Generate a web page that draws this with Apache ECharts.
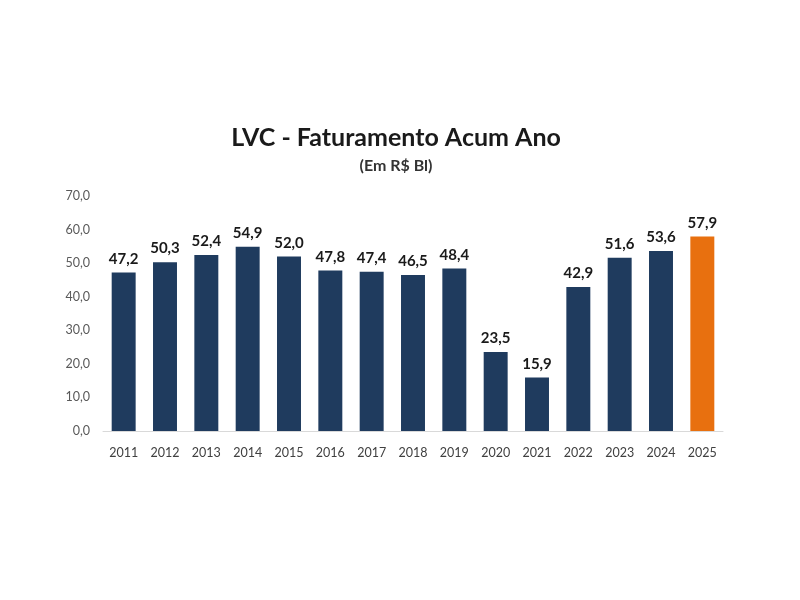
<!DOCTYPE html>
<html><head><meta charset="utf-8">
<script src="https://cdn.jsdelivr.net/npm/echarts@6/dist/echarts.min.js"></script>
<style>html,body{margin:0;padding:0;background:#fff}#c{width:800px;height:600px}</style>
</head><body><div id="c"></div>
<script>
const years = ['2011','2012','2013','2014','2015','2016','2017','2018','2019','2020','2021','2022','2023','2024','2025'];
const values = [47.2,50.3,52.4,54.9,52.0,47.8,47.4,46.5,48.4,23.5,15.9,42.9,51.6,53.6,57.9];
const highlightYear = '2025';
const fmt = v => v.toFixed(1).replace('.', ',');
const chart = echarts.init(document.getElementById('c'));
chart.setOption({
  backgroundColor:'#fff',
  animation:false,
  title:{
    text:'LVC - Faturamento Acum Ano',
    subtext:'(Em R$ Bl)',
    left:391, top:120, textAlign:'center',
    itemGap:8,
    textStyle:{fontFamily:'Lato',fontWeight:'bold',fontSize:25,color:'#1a1a1a'},
    subtextStyle:{fontFamily:'Lato',fontWeight:'bold',fontSize:16,color:'#333'}
  },
  grid:{left:103,right:77,top:196,bottom:169,containLabel:false},
  xAxis:{type:'category',data:years,
    axisLine:{lineStyle:{color:'#d9d9d9'}},axisTick:{show:false},
    axisLabel:{color:'#404040',fontFamily:'Lato',fontSize:12.5,margin:15}},
  yAxis:{type:'value',min:0,max:70,interval:10,
    splitLine:{show:false},axisLine:{show:false},axisTick:{show:false},
    axisLabel:{color:'#595959',fontFamily:'Lato',fontSize:12.5,margin:13,formatter:v=>fmt(v)}},
  series:[{type:'bar',barWidth:'58%',
    data:values.map((v,i)=>({value:v,itemStyle:{color:years[i]===highlightYear?'#e8700f':'#1f3b5e'}})),
    label:{show:true,position:'top',distance:6,fontFamily:'Lato',fontWeight:'bold',fontSize:15,color:'#1a1a1a',formatter:p=>fmt(p.value)}
  }]
});
</script></body></html>
